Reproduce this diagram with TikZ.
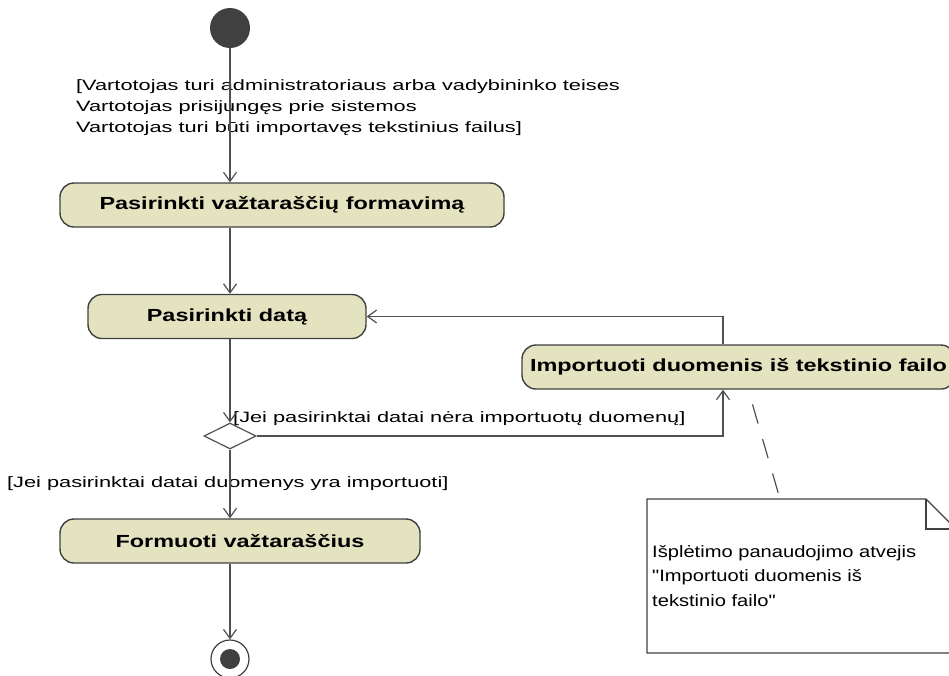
\documentclass[tikz,border=0pt]{standalone}
\usepackage{fontspec}
\setmainfont{Liberation Sans}
\newfontfamily\guardfont[FakeStretch=1.45]{Liberation Sans}
\newfontfamily\notefont[FakeStretch=1.22]{Liberation Sans}
\newfontfamily\actfont[FakeStretch=1.34]{Liberation Sans}
\usetikzlibrary{shapes.geometric,arrows.meta}
\definecolor{actfill}{RGB}{228,227,192}
\definecolor{edgegray}{RGB}{80,80,80}
\definecolor{nodegray}{RGB}{64,64,64}
\tikzset{
    action/.style={draw=nodegray, line width=1.4pt, fill=actfill, rounded corners=14pt,
        inner sep=0pt, minimum height=44pt, font=\actfont\bfseries\fontsize{17.5}{20}\selectfont},
    flow/.style={draw=edgegray, line width=1.2pt, -{Straight Barb[length=9pt,width=13pt]}},
    guard/.style={inner sep=0pt, align=left, anchor=base west,
        font=\guardfont\fontsize{15}{21}\selectfont},
    notetext/.style={inner sep=0pt, align=left, anchor=base west,
        font=\notefont\fontsize{16.5}{24.5}\selectfont},
}

\begin{document}
\begin{tikzpicture}[x=1pt, y=-1pt]
        \useasboundingbox (0,0) rectangle (949,675);
        \clip (0,0) rectangle (949,675);

        % Draw the nodes
        \node[circle, fill=nodegray, minimum size=40pt, inner sep=0pt] (start) at (230,28) {};
        \node[action, minimum width=444pt] (choose) at (282,205) {Pasirinkti važtaraščių formavimą};
        \node[action, minimum width=278pt] (pickdate) at (227,316.5) {Pasirinkti datą};
        \node[action, minimum width=433pt] (import) at (738.5,367) {Importuoti duomenis iš tekstinio failo};
        \node[diamond, draw=edgegray, line width=1.2pt, fill=white, aspect=2,
            minimum width=52pt, minimum height=26pt, inner sep=0pt] (check) at (230,436) {};
        \node[action, minimum width=360pt] (form) at (240,541) {Formuoti važtaraščius};
        \node[circle, draw=nodegray, line width=1.2pt, minimum size=38pt, inner sep=0pt] (stop) at (230,659) {};
        \fill[nodegray] (stop) circle (10pt);

        \coordinate (turn) at (723,0);

        % Guards (base is the last line)
        \node[guard] (pre) at (76,132) {[Vartotojas turi administratoriaus arba vadybininko teises\\
            Vartotojas prisijungęs prie sistemos\\
            Vartotojas turi būti importavęs tekstinius failus]};
        \node[guard] (nodata) at (233,422) {[Jei pasirinktai datai nėra importuotų duomenų]};
        \node[guard] (hasdata) at (7,487) {[Jei pasirinktai datai duomenys yra importuoti]};

        % Flows
        \draw[flow] (start) -- (start |- choose.north);
        \draw[flow] (choose.south -| start) -- (pickdate.north -| start);
        \draw[flow] (pickdate.south -| start) -- (check);
        \draw[flow] (check) -- (check |- form.north);
        \draw[flow] (form.south -| stop) -- (stop);
        \draw[flow] (check.east) -| (turn |- import.south);
        \draw[flow] (turn |- import.north) |- (pickdate.east);

        % Note
        \draw[draw=nodegray, line width=1.2pt] (647,499) -- (926,499) -- (956,529) -- (956,653) -- (647,653) -- cycle;
        \draw[draw=nodegray, line width=1.2pt] (926,499) -- (926,529) -- (956,529);
        \node[notetext] (extend) at (652,606) {Išplėtimo panaudojimo atvejis\\
            "Importuoti duomenis iš\\
            tekstinio failo"};
        \coordinate (impfoot) at (748,389);
        \coordinate (notetop) at (780,499);
        \draw[draw=edgegray, line width=1.2pt, dash pattern=on 20pt off 16pt, dash phase=20pt] (impfoot) -- (notetop);
\end{tikzpicture}
\end{document}
